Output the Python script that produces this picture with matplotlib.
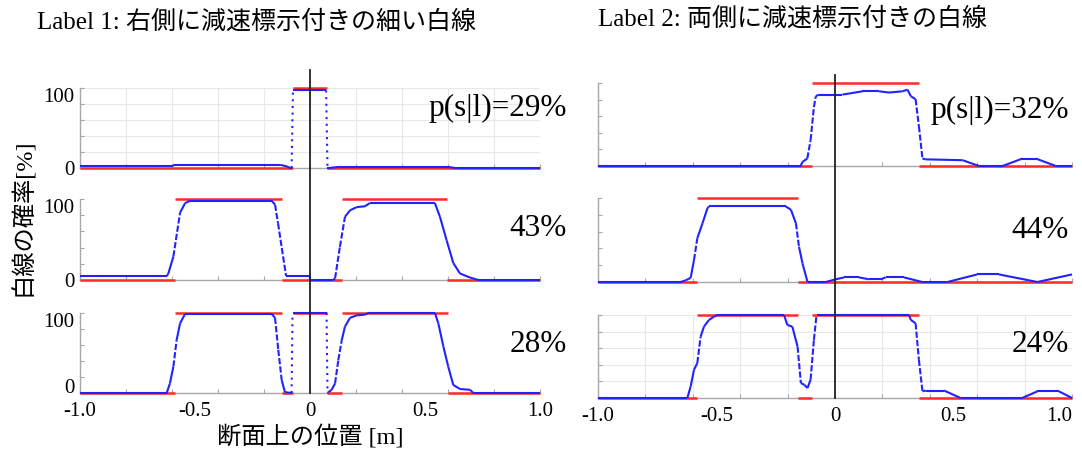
import numpy as np
import matplotlib.pyplot as plt
from matplotlib.collections import LineCollection
from matplotlib.lines import Line2D
from matplotlib.transforms import blended_transform_factory


# estimated white-line probability [%] along the cross section [m]
# label 1, three sample rows
l1_x = [-1.0, -0.6, -0.59, -0.13, -0.1, -0.087, -0.08, -0.074, 0.07, 0.076, 0.082, 0.13, 0.6, 0.63, 1.0]
l1_p = [2, 2, 4, 4, 2, 0, 0, 97, 97, 0, 0, 1.5, 1.5, 0, 0]

l2_x = [-1.0, -0.623, -0.617, -0.594, -0.565, -0.543, -0.52, -0.167, -0.152, -0.139, -0.117, -0.104,
        -0.001, 0.0, 0.1, 0.109, 0.13, 0.152, 0.174, 0.203, 0.239, 0.26, 0.543, 0.565, 0.594, 0.623,
        0.652, 0.696, 0.732, 1.0]
l2_p = [5, 5, 7, 29, 83, 95, 98, 98, 93, 70, 29, 5, 5, 0, 0, 2, 41, 78, 86, 90, 91, 95, 95, 78, 49,
        21, 8, 3, 0, 0]

l3_x = [-1.0, -0.623, -0.609, -0.594, -0.58, -0.565, -0.543, -0.167, -0.152, -0.138, -0.123, -0.109,
        -0.08, -0.076, 0.072, 0.076, 0.08, 0.094, 0.109, 0.123, 0.138, 0.152, 0.174, 0.203, 0.239,
        0.254, 0.543, 0.558, 0.58, 0.601, 0.623, 0.652, 0.696, 0.71, 1.0]
l3_p = [0, 0, 12, 33, 66, 87, 99, 99, 94, 54, 16, 1, 0, 100, 100, 0, 1, 4, 12, 41, 66, 83, 94, 97,
        98, 100, 100, 87, 58, 33, 10, 5, 4, 0, 0]

# label 2, three sample rows
r1_x = [-1.0, -0.145, -0.137, -0.117, -0.103, -0.089, -0.081, -0.068, 0.031, 0.116, 0.186, 0.228,
        0.285, 0.306, 0.32, 0.34, 0.354, 0.369, 0.383, 0.538, 0.608, 0.707, 0.791, 0.847, 0.932, 1.0]
r1_p = [0, 0, 5, 9, 31, 71, 84, 86, 86, 90, 90, 88.5, 90, 92, 84, 80.5, 48, 9, 8, 7, 0, 0, 9, 9, 0, 0]

r2_x = [-1.0, -0.651, -0.63, -0.609, -0.595, -0.581, -0.559, -0.538, -0.532, -0.208, -0.186, -0.165,
        -0.152, -0.137, -0.116, -0.039, -0.004, 0.038, 0.101, 0.143, 0.193, 0.214, 0.291, 0.368,
        0.474, 0.6, 0.692, 0.854, 1.0]
r2_p = [0, 0, 2, 5, 26, 52, 70, 88, 90, 90, 86, 70, 42, 22, 0, 0, 2.7, 5.5, 5.5, 3.2, 3.2, 5.5, 5.5,
        0, 0, 9, 9, 0, 9]

r3_x = [-1.0, -0.623, -0.609, -0.595, -0.581, -0.567, -0.553, -0.532, -0.511, -0.496, -0.215, -0.201,
        -0.18, -0.158, -0.144, -0.13, -0.116, -0.103, -0.089, -0.078, 0.312, 0.32, 0.34, 0.354,
        0.369, 0.383, 0.46, 0.53, 0.79, 0.854, 0.945, 1.0]
r3_p = [0, 0, 14, 34, 42, 74, 86, 94, 98, 100, 100, 88, 86, 62, 18, 16, 12, 22, 70, 100, 100, 94,
        90, 46, 8, 9, 9, 0, 0, 8, 8, 0]

# ground truth: segment edges [m] and level [%] of each segment
l1_edges = [-1.0, -0.076, 0.075, 1.0]
l1_truth = [0, 100, 0]
l2_edges = [-1.0, -0.587, -0.123, 0.14, 0.594, 1.0]
l2_truth = [0, 100, 0, 100, 0]
l3_edges = [-1.0, -0.587, -0.123, -0.076, 0.076, 0.138, 0.6, 1.0]
l3_truth = [0, 100, 0, 100, 0, 100, 0]
r1_edges = [-1.0, -0.095, 0.354, 1.0]
r1_truth = [0, 100, 0]
r2_edges = [-1.0, -0.581, -0.158, 1.0]
r2_truth = [0, 100, 0]
r3_edges = [-1.0, -0.581, -0.158, -0.095, 0.354, 1.0]
r3_truth = [0, 100, 0, 100, 0]

left_ratio = ['p(s|l)=29%', '43%', '28%']
right_ratio = ['p(s|l)=32%', '44%', '24%']
x_ticklabels = ['-1.0', '-0.5', '0', '0.5', '1.0']

W, H = 1082, 455
SERIF_JP = ['Liberation Serif', 'Noto Sans CJK JP']
BLUE = '#2222ff'
RED = '#ff2a2a'
GRAY = '#a8a8a8'


def px_rect(x0, x1, top, bottom):
    return [x0 / W, 1 - bottom / H, (x1 - x0) / W, (bottom - top) / H]


def draw_truth(ax, edges, levels):
    ax.hlines(levels, edges[:-1], edges[1:], colors=RED, linewidth=1.8, zorder=2.6, clip_on=False)


def draw_prob(ax, x, p):
    x = np.asarray(x, float)
    p = np.asarray(p, float)
    pts = np.column_stack([x, p])
    segs = np.stack([pts[:-1], pts[1:]], axis=1)
    slope = np.abs(np.diff(p) / np.diff(x))
    styles = []
    for s in slope:
        if s > 5000:
            styles.append((0, (1, 2.2)))
        elif s > 1500:
            styles.append((0, (3, 1)))
        else:
            styles.append('-')
    lc = LineCollection(segs, colors=BLUE, linewidths=1.5, linestyles=styles,
                        zorder=3, clip_on=False)
    ax.add_collection(lc)


def style_axes(ax, grid):
    ax.set_xlim(-1, 1)
    ax.set_ylim(0, 100)
    ax.xaxis.remove_overlapping_locs = False
    ax.yaxis.remove_overlapping_locs = False
    for side in ['top', 'right']:
        ax.spines[side].set_visible(False)
    for side in ['left', 'bottom']:
        ax.spines[side].set_color(GRAY)
        ax.spines[side].set_linewidth(1.0)
    ax.set_xticks(np.arange(-1, 1.01, 0.2))
    ax.set_yticks(np.arange(0, 101, 20))
    ax.tick_params(which='major', direction='in', length=3, color=GRAY,
                   labelbottom=False, labelleft=False)
    if grid:
        ax.grid(True, color='#e8e8e8', linewidth=0.8)
        ax.set_axisbelow(True)
    ax.set_facecolor('none')


fig = plt.figure(figsize=(W / 100, H / 100), dpi=100)

left_rows = [(88, 168), (199, 280), (313, 393)]
right_rows = [(83, 166), (198, 282), (315, 398)]
left_data = [(l1_x, l1_p, l1_edges, l1_truth), (l2_x, l2_p, l2_edges, l2_truth),
             (l3_x, l3_p, l3_edges, l3_truth)]
right_data = [(r1_x, r1_p, r1_edges, r1_truth), (r2_x, r2_p, r2_edges, r2_truth),
              (r3_x, r3_p, r3_edges, r3_truth)]
left_grid = [True, False, False]
right_grid = [False, False, True]
left_text_y = [108, 228, 345]
right_text_y = [110, 230, 345]

left_axes = []
for i, ((top, bot), (x, p, e, t)) in enumerate(zip(left_rows, left_data)):
    ax = fig.add_axes(px_rect(80, 540, top, bot))
    style_axes(ax, left_grid[i])
    draw_truth(ax, e, t)
    draw_prob(ax, x, p)
    # only 0 and 100 are labelled on the left column
    ax.set_yticks([0, 100], ['0', '100'], minor=True, fontsize=15, family='Liberation Serif')
    ax.tick_params(which='minor', axis='y', length=0, pad=4, labelleft=True)
    ax.tick_params(which='minor', axis='x', length=0)
    ax.yaxis.get_minor_ticks()[1].label1.set_va('top')
    ax.yaxis.get_minor_ticks()[0].label1.set_va('center_baseline' if i < 2 else 'baseline')
    fig.text(567 / W, 1 - left_text_y[i] / H, left_ratio[i], ha='right', va='center',
             fontsize=22.5, family='Liberation Serif')
    left_axes.append(ax)

right_axes = []
for i, ((top, bot), (x, p, e, t)) in enumerate(zip(right_rows, right_data)):
    ax = fig.add_axes(px_rect(598, 1072, top, bot))
    style_axes(ax, right_grid[i])
    draw_truth(ax, e, t)
    draw_prob(ax, x, p)
    fig.text(1069 / W, 1 - right_text_y[i] / H, right_ratio[i], ha='right', va='center',
             fontsize=22.5, family='Liberation Serif')
    right_axes.append(ax)

# position labels on the bottom row only
for ax in (left_axes[-1], right_axes[-1]):
    ax.set_xticks([-1, -0.5, 0, 0.5, 1], x_ticklabels, minor=True, fontsize=15,
                  family='Liberation Serif')
    ax.tick_params(which='minor', axis='x', length=0, pad=6.5, labelbottom=True)
# keep the last label of the right column inside the figure
right_axes[-1].xaxis.get_minor_ticks()[-1].label1.set_ha('right')

# x = 0 reference line through each column
for ax, top, bot in [(left_axes[0], 70, 393), (right_axes[0], 75, 398)]:
    tr = blended_transform_factory(ax.transData, fig.transFigure)
    fig.add_artist(Line2D([0, 0], [1 - top / H, 1 - bot / H], transform=tr,
                          color='#222222', linewidth=1.3, zorder=5))

fig.text(37 / W, 1 - 22 / H, 'Label 1: 右側に減速標示付きの細い白線', ha='left', va='center',
         fontsize=18, family=SERIF_JP)
fig.text(598 / W, 1 - 19 / H, 'Label 2: 両側に減速標示付きの白線', ha='left', va='center',
         fontsize=18, family=SERIF_JP)
fig.text(23 / W, 1 - 217 / H, '白線の確率[%]', rotation=90, ha='center', va='center',
         fontsize=17.5, family=SERIF_JP)
fig.text(310 / W, 1 - 437 / H, '断面上の位置 [m]', ha='center', va='center',
         fontsize=17.5, family=SERIF_JP)

fig.savefig('out.png', dpi=100)
